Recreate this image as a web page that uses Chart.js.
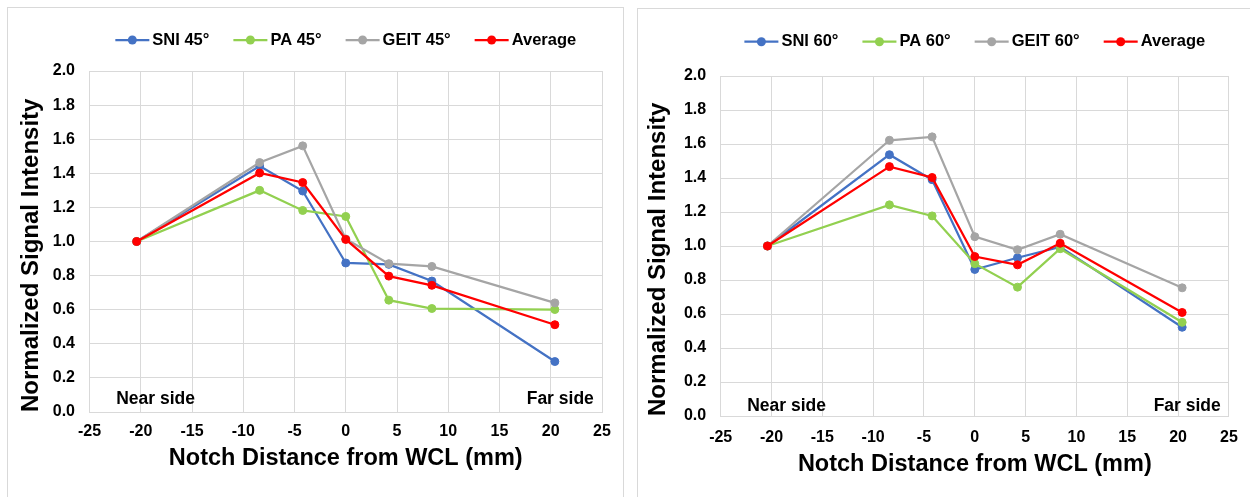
<!DOCTYPE html>
<html>
<head>
<meta charset="utf-8">
<script src="https://cdn.jsdelivr.net/npm/chart.js@4.4.0/dist/chart.umd.min.js"></script>
<style>
  body { margin: 0; background: #fff; width: 1250px; height: 497px; overflow: hidden; position: relative; }
  .frame { position: absolute; border: 1px solid #d9d9d9; background: #fff; }
  #frame45 { left: 7px; top: 7px; width: 615px; height: 500px; }
  #frame60 { left: 637px; top: 8px; width: 620px; height: 500px; }
  canvas { position: absolute; top: 0; }
  #chart45 { left: 0; }
  #chart60 { left: 625px; }
</style>
</head>
<body>
<div class="frame" id="frame45"></div>
<div class="frame" id="frame60"></div>
<canvas id="chart45" width="625" height="497"></canvas>
<canvas id="chart60" width="625" height="497"></canvas>
<script>
// notch positions relative to the weld centre line (mm)
const distances = [-20.4, -8.4, -4.2, 0, 4.2, 8.4, 20.4];

const names45 = ['SNI 45°', 'PA 45°', 'GEIT 45°', 'Average'];
const sni45  = [1.00, 1.443, 1.296, 0.874, 0.866, 0.768, 0.296];
const pa45   = [1.00, 1.300, 1.182, 1.147, 0.656, 0.607, 0.601];
const geit45 = [1.00, 1.463, 1.561, 1.015, 0.870, 0.854, 0.640];
const avg45  = [1.00, 1.402, 1.346, 1.012, 0.797, 0.743, 0.512];

const names60 = ['SNI 60°', 'PA 60°', 'GEIT 60°', 'Average'];
const sni60  = [1.00, 1.537, 1.390, 0.862, 0.931, 0.995, 0.522];
const pa60   = [1.00, 1.242, 1.177, 0.896, 0.758, 0.984, 0.551];
const geit60 = [1.00, 1.622, 1.642, 1.055, 0.978, 1.069, 0.754];
const avg60  = [1.00, 1.467, 1.403, 0.938, 0.889, 1.016, 0.609];

const colors = ['#4472C4', '#92D050', '#A5A5A5', '#FF0000'];
const sideNotes = [
  { text: 'Near side', x: -22.4, align: 'left' },
  { text: 'Far side', x: 24.2, align: 'right' }
];

const FONT = '"Liberation Sans", Arial, sans-serif';
const TEXT = '#000';

// one-row legend with a line + marker swatch, centred over the plot
const lineLegend = {
  id: 'lineLegend',
  afterDraw(chart, args, opts) {
    const { ctx, chartArea } = chart;
    const swatch = 34, gap = 3, spacing = 24;
    ctx.save();
    ctx.font = 'bold 16.5px ' + FONT;
    const items = chart.data.datasets.map(ds => ({
      label: ds.label,
      color: ds.borderColor,
      w: ctx.measureText(ds.label).width
    }));
    const total = items.reduce((s, it) => s + swatch + gap + it.w, 0) + spacing * (items.length - 1);
    let x = (chartArea.left + chartArea.right) / 2 - total / 2;
    const y = opts.y;
    items.forEach(it => {
      ctx.strokeStyle = it.color;
      ctx.lineWidth = 2.25;
      ctx.beginPath();
      ctx.moveTo(x, y);
      ctx.lineTo(x + swatch, y);
      ctx.stroke();
      ctx.fillStyle = it.color;
      ctx.beginPath();
      ctx.arc(x + swatch / 2, y, 4.5, 0, Math.PI * 2);
      ctx.fill();
      ctx.fillStyle = TEXT;
      ctx.textAlign = 'left';
      ctx.textBaseline = 'middle';
      ctx.fillText(it.label, x + swatch + gap, y);
      x += swatch + gap + it.w + spacing;
    });
    ctx.restore();
  }
};

// "Near side" / "Far side" notes, placed in data units
const sideLabels = {
  id: 'sideLabels',
  afterDatasetsDraw(chart, args, opts) {
    const { ctx, scales: { x, y } } = chart;
    ctx.save();
    ctx.font = 'bold 17.5px ' + FONT;
    ctx.fillStyle = TEXT;
    ctx.textBaseline = 'middle';
    sideNotes.forEach(n => {
      ctx.textAlign = n.align;
      ctx.fillText(n.text, x.getPixelForValue(n.x), y.getPixelForValue(opts.y));
    });
    ctx.restore();
  }
};

function makeChart(id, names, series, box) {
  // later series are painted over earlier ones
  const datasets = series.map((values, i) => ({
    label: names[i],
    data: distances.map((d, k) => ({ x: d, y: values[k] })),
    borderColor: colors[i],
    backgroundColor: colors[i],
    pointBackgroundColor: colors[i],
    pointBorderColor: colors[i],
    borderWidth: 2.25,
    pointRadius: 4,
    pointBorderWidth: 1,
    tension: 0,
    order: series.length - i
  }));

  return new Chart(document.getElementById(id), {
    type: 'line',
    data: { datasets },
    plugins: [lineLegend, sideLabels],
    options: {
      responsive: false,
      devicePixelRatio: 1,
      animation: false,
      events: [],
      layout: { padding: { top: box.plotTop, right: box.padRight, bottom: 0, left: 0 } },
      plugins: {
        legend: { display: false },
        tooltip: { enabled: false },
        lineLegend: { y: box.legendY },
        sideLabels: { y: box.noteY }
      },
      scales: {
        x: {
          type: 'linear',
          min: -25,
          max: 25,
          afterFit(scale) { scale.height = box.xHeight; },
          ticks: {
            stepSize: 5,
            padding: box.xTickPad,
            autoSkip: false,
            maxRotation: 0,
            color: TEXT,
            font: { family: FONT, size: 16, weight: 'bold' }
          },
          grid: { color: '#d9d9d9', lineWidth: 1, drawTicks: false },
          border: { color: '#d9d9d9', width: 1 },
          title: {
            display: true,
            text: 'Notch Distance from WCL (mm)',
            color: TEXT,
            font: { family: FONT, size: 23.5, weight: 'bold' },
            padding: { top: 0, bottom: box.xTitlePad }
          }
        },
        y: {
          min: 0,
          max: 2,
          afterFit(scale) { scale.width = box.yWidth; },
          ticks: {
            stepSize: 0.2,
            padding: 14.5,
            color: TEXT,
            font: { family: FONT, size: 16, weight: 'bold' },
            callback: v => v.toFixed(1)
          },
          grid: { color: '#d9d9d9', lineWidth: 1, drawTicks: false },
          border: { color: '#d9d9d9', width: 1 },
          title: {
            display: true,
            text: 'Normalized Signal Intensity',
            align: 'start',
            color: TEXT,
            font: { family: FONT, size: 24, weight: 'bold' },
            padding: { top: box.yTitlePad, bottom: 0 }
          }
        }
      }
    }
  });
}

makeChart('chart45', names45, [sni45, pa45, geit45, avg45], {
  plotTop: 71, legendY: 40, padRight: 23,
  yWidth: 89.5, xHeight: 85, xTickPad: 10.1, xTitlePad: 24.4,
  yTitlePad: 17.3, noteY: 0.075
});

makeChart('chart60', names60, [sni60, pa60, geit60, avg60], {
  plotTop: 76, legendY: 41.7, padRight: 18,
  yWidth: 95.7, xHeight: 81, xTickPad: 12.2, xTitlePad: 17.9,
  yTitlePad: 18.6, noteY: 0.058
});
</script>
</body>
</html>
